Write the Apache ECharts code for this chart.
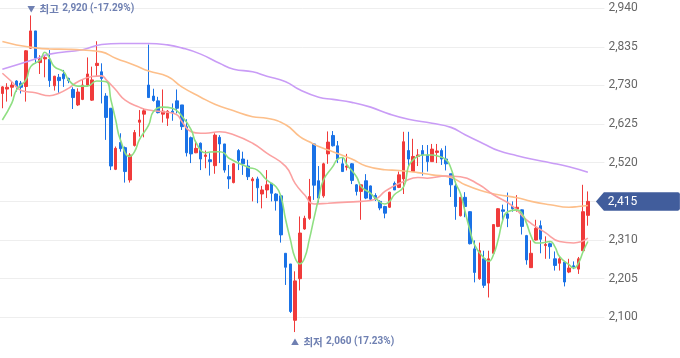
<!DOCTYPE html>
<html>
<head>
<meta charset="utf-8">
<script src="https://cdn.jsdelivr.net/npm/echarts@6/dist/echarts.min.js"></script>
<style>
html,body{margin:0;padding:0;background:#fff;}
#c{width:680px;height:358px;}
</style>
</head>
<body>
<div id="c"></div>
<script>
// [open, close, low, high]
const candles = [
[2708,2726,2668,2728],[2720,2725,2686,2736],[2725,2731,2700,2742],[2742,2727,2713,2744],[2736,2725,2708,2742],
[2727,2824,2686,2826],[2831,2878,2830,2920],[2878,2804,2790,2878],[2792,2802,2761,2812],[2802,2806,2752,2812],
[2801,2743,2726,2826],[2729,2755,2716,2756],[2752,2743,2710,2761],[2761,2748,2726,2772],[2749,2743,2736,2751],
[2719,2697,2666,2725],[2677,2712,2674,2722],[2692,2731,2690,2745],[2731,2761,2728,2806],[2690,2745,2688,2781],
[2784,2790,2754,2850],[2767,2749,2681,2790],[2701,2643,2582,2709],[2668,2511,2500,2668],[2502,2559,2500,2564],
[2575,2558,2550,2600],[2561,2496,2466,2564],[2473,2541,2466,2546],[2567,2602,2564,2609],[2630,2636,2591,2663],
[2652,2661,2589,2668],[2731,2697,2697,2841],[2701,2689,2686,2721],[2688,2656,2654,2699],[2652,2660,2629,2719],
[2641,2660,2620,2663],[2660,2656,2634,2681],[2688,2668,2654,2719],[2677,2618,2609,2677],[2618,2547,2537,2638],
[2588,2544,2519,2591],[2547,2559,2546,2575],[2573,2530,2500,2575],[2537,2541,2505,2553],[2528,2523,2485,2546],
[2512,2595,2490,2600],[2589,2571,2519,2595],[2571,2500,2493,2571],[2482,2476,2449,2514],[2466,2517,2464,2519],
[2553,2526,2500,2557],[2530,2517,2487,2550],[2511,2482,2473,2528],[2471,2476,2415,2481],[2476,2452,2410,2482],
[2435,2446,2396,2457],[2446,2460,2424,2500],[2464,2437,2415,2464],[2435,2417,2390,2437],[2430,2324,2303,2430],
[2274,2236,2188,2274],[2245,2116,2112,2245],[2092,2199,2060,2225],[2205,2329,2173,2374],[2340,2369,2338,2376],
[2369,2428,2365,2476],[2571,2459,2419,2573],[2471,2424,2412,2511],[2430,2517,2425,2520],[2544,2576,2517,2605],
[2594,2566,2564,2606],[2566,2530,2519,2579],[2517,2496,2496,2535],[2508,2511,2499,2544],[2517,2472,2462,2519],
[2460,2442,2431,2462],[2442,2460,2365,2462],[2471,2424,2421,2489],[2457,2421,2419,2458],[2431,2420,2416,2437],
[2415,2397,2391,2418],[2401,2383,2369,2403],[2399,2440,2397,2441],[2464,2446,2446,2469],[2453,2487,2451,2496],
[2476,2577,2435,2604],[2553,2530,2508,2604],[2496,2537,2496,2585],[2537,2541,2511,2557],[2553,2541,2485,2568],
[2541,2523,2496,2568],[2523,2557,2523,2571],[2548,2552,2519,2571],[2553,2530,2514,2559],[2530,2517,2499,2566],
[2490,2460,2427,2490],[2457,2401,2365,2469],[2376,2426,2374,2427],[2426,2401,2372,2440],[2387,2300,2298,2388],
[2286,2222,2195,2309],[2205,2281,2202,2303],[2259,2187,2180,2281],[2193,2259,2154,2281],[2274,2352,2270,2353],
[2347,2395,2345,2397],[2392,2388,2360,2406],[2381,2369,2345,2439],[2401,2395,2387,2415],[2394,2399,2387,2432],
[2392,2347,2325,2393],[2322,2256,2243,2324],[2235,2274,2234,2309],[2310,2342,2309,2365],[2349,2312,2274,2363],
[2295,2298,2259,2320],[2300,2292,2259,2303],[2259,2241,2227,2279],[2247,2259,2227,2264],[2250,2196,2184,2252],
[2223,2234,2220,2259],[2240,2237,2231,2252],[2231,2259,2218,2264],[2281,2387,2280,2460],[2377,2415,2349,2442]
];
const extraSlots = 3; // empty days after the last candle
const categories = [];
for (let i = 0; i < candles.length + extraSlots; i++) categories.push('D' + (i + 1));

// moving-average lines: [dayIndex, value]
const ma5 = [[0,2636],[2,2682],[3,2718],[5,2745],[6,2781],[8,2799],[9,2820],[10,2804],[11,2781],[13,2767],[14,2745],[16,2728],[18,2728],[20,2742],[22,2740],[23,2690],[24,2636],[25,2582],[27,2537],[28,2550],[29,2582],[31,2623],[32,2659],[34,2671],[36,2668],[38,2647],[40,2609],[41,2575],[43,2547],[44,2549],[46,2550],[47,2546],[48,2532],[52,2508],[54,2500],[56,2473],[58,2454],[59,2428],[60,2365],[61,2311],[62,2261],[63,2245],[64,2261],[65,2311],[66,2369],[67,2424],[68,2473],[70,2510],[71,2530],[72,2534],[73,2514],[75,2482],[76,2455],[78,2437],[79,2424],[81,2408],[82,2415],[83,2433],[85,2455],[86,2510],[87,2528],[89,2541],[91,2541],[92,2539],[94,2528],[95,2505],[96,2464],[97,2437],[98,2387],[99,2338],[100,2297],[102,2261],[103,2252],[104,2270],[105,2311],[106,2365],[107,2387],[109,2392],[110,2383],[111,2356],[112,2320],[113,2302],[114,2302],[116,2306],[117,2292],[118,2265],[120,2243],[121,2234],[122,2247],[123,2279],[124,2306]];
const ma20 = [[0,2763],[2,2740],[4,2716],[7,2710],[10,2702],[12,2709],[14,2722],[16,2740],[19,2754],[21,2756],[22,2745],[24,2718],[26,2690],[29,2671],[31,2663],[35,2657],[37,2650],[38,2632],[40,2604],[42,2600],[43,2600],[46,2604],[49,2596],[53,2573],[56,2546],[60,2510],[62,2464],[64,2433],[66,2408],[69,2410],[73,2413],[76,2415],[79,2421],[81,2442],[83,2457],[85,2469],[88,2480],[90,2478],[94,2484],[97,2482],[101,2460],[104,2433],[108,2403],[111,2365],[115,2330],[118,2306],[121,2302],[124,2315]];
const ma60 = [[0,2849],[3,2840],[7,2832],[10,2829],[14,2828],[17,2826],[21,2821],[24,2804],[28,2785],[31,2769],[35,2754],[38,2726],[42,2698],[45,2679],[49,2661],[53,2645],[56,2641],[60,2623],[63,2591],[65,2577],[67,2564],[70,2550],[74,2530],[77,2511],[81,2501],[84,2499],[88,2493],[91,2487],[95,2480],[98,2460],[102,2442],[105,2433],[109,2425],[112,2415],[116,2406],[120,2399],[122,2401],[124,2404]];
const ma120 = [[0,2774],[7,2802],[10,2815],[17,2827],[21,2841],[25,2844],[31,2844],[35,2840],[38,2832],[42,2815],[46,2790],[49,2774],[53,2767],[56,2755],[60,2740],[63,2718],[67,2698],[70,2692],[74,2684],[78,2671],[82,2652],[86,2638],[91,2627],[95,2616],[98,2596],[102,2571],[105,2553],[109,2539],[112,2530],[116,2520],[120,2509],[124,2494]];

const highPoint = {index: 6, value: 2920, pct: '-17.29%'};
const lowPoint = {index: 62, value: 2060, pct: '17.23%'};
const lastIndex = candles.length - 1;
const lastClose = candles[lastIndex][1];

const fmt = v => Number(v).toLocaleString('en-US');
const UP = '#f03b3b', DOWN = '#1a72e6';
const NOTE = '#6f80b2';
const KR = '"Noto Sans CJK KR", "Noto Sans", sans-serif';
const noteRich = {
  a: {color: NOTE, fontSize: 8, fontFamily: KR, padding: [0, 1, 0, 0]},
  t: {color: NOTE, fontSize: 10.5, fontFamily: KR, fontWeight: 'bold'},
  b: {color: NOTE, fontSize: 10, fontWeight: 'bold', fontFamily: 'Roboto, sans-serif', letterSpacing: -0.2}
};

const chart = echarts.init(document.getElementById('c'), null, {renderer: 'canvas'});
chart.setOption({
  animation: false,
  backgroundColor: '#ffffff',
  grid: {left: -1, right: 75.6, top: 0, bottom: 2},
  xAxis: {type: 'category', data: categories, boundaryGap: true, show: false},
  yAxis: {
    type: 'value', position: 'right', min: 1995, max: 2962, interval: 105, scale: true,
    axisLine: {show: false}, axisTick: {show: false},
    axisLabel: {showMinLabel: false, showMaxLabel: false, color: '#666', fontSize: 12,
      fontFamily: 'Roboto, sans-serif', margin: 4, formatter: v => fmt(v)},
    splitLine: {show: true, showMinLine: false, showMaxLine: false, lineStyle: {color: '#eeeeee', width: 1}}
  },
  series: [
    {
      type: 'candlestick', data: candles, barWidth: 3,
      itemStyle: {color: UP, color0: DOWN, borderColor: UP, borderColor0: DOWN, borderWidth: 1},
      markPoint: {
        symbol: 'rect', symbolSize: 1, itemStyle: {color: 'rgba(0,0,0,0)'},
        data: [
          {coord: [highPoint.index, highPoint.value],
           label: {show: true, position: [-3, -6], align: 'left', verticalAlign: 'middle',
             formatter: '{a|▼} {t|최고} {b|' + fmt(highPoint.value) + ' (' + highPoint.pct + ')}',
             rich: noteRich}},
          {coord: [lowPoint.index, lowPoint.value],
           label: {show: true, position: [-3.5, 10], align: 'left', verticalAlign: 'middle',
             formatter: '{a|▲} {t|최저} {b|' + fmt(lowPoint.value) + ' (' + lowPoint.pct + ')}',
             rich: noteRich}},
          {coord: [lastIndex, lastClose],
           symbol: 'path://M0,9 L8,0 L82,0 Q84,0 84,2 L84,16 Q84,18 82,18 L8,18 Z',
           symbolSize: [84, 18.5], symbolOffset: [50, 0], symbolKeepAspect: false,
           itemStyle: {color: '#415d9c'},
           label: {show: true, position: [12, 9.5], align: 'left', verticalAlign: 'middle',
             color: '#fff', fontSize: 12, fontFamily: 'Roboto, sans-serif',
             formatter: fmt(lastClose)}}
        ]
      }
    },
    {type: 'line', data: ma120, smooth: true, showSymbol: false, lineStyle: {color: '#c99cf6', width: 1.6}, z: 3},
    {type: 'line', data: ma60, smooth: true, showSymbol: false, lineStyle: {color: '#fdbf8a', width: 1.6}, z: 3},
    {type: 'line', data: ma20, smooth: true, showSymbol: false, lineStyle: {color: '#fba1a1', width: 1.6}, z: 3},
    {type: 'line', data: ma5, smooth: true, showSymbol: false, lineStyle: {color: '#8fdf82', width: 1.6}, z: 3}
  ]
});
</script>
</body>
</html>
